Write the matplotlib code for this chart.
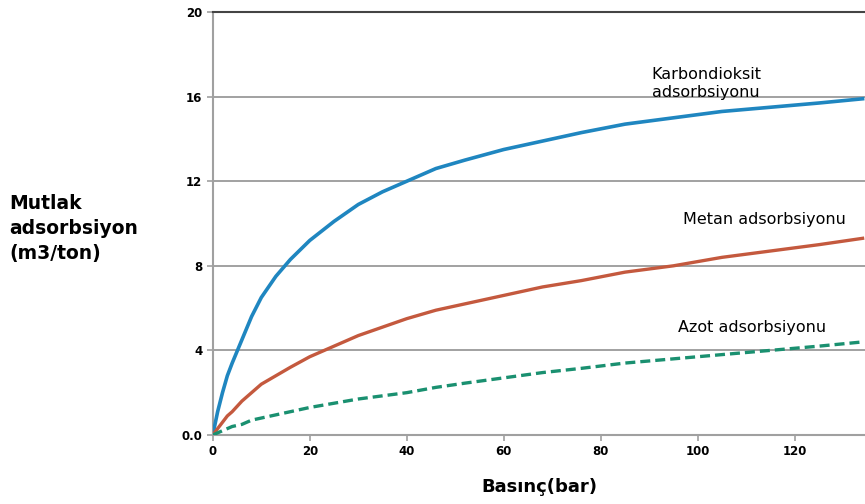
import matplotlib
matplotlib.use("Agg")
import matplotlib.pyplot as plt

# Basinc (bar) and read-off adsorption values (m3/ton)
pressure = [0, 1, 2, 3, 4, 6, 8, 10, 13, 16, 20, 25, 30, 35, 40, 46, 52, 60,
            68, 76, 85, 95, 105, 115, 125, 134]
co2 = [0, 1.1, 2.0, 2.8, 3.4, 4.5, 5.6, 6.5, 7.5, 8.3, 9.2, 10.1, 10.9, 11.5,
       12.0, 12.6, 13.0, 13.5, 13.9, 14.3, 14.7, 15.0, 15.3, 15.5, 15.7, 15.9]
metan = [0, 0.3, 0.6, 0.9, 1.1, 1.6, 2.0, 2.4, 2.8, 3.2, 3.7, 4.2, 4.7, 5.1,
         5.5, 5.9, 6.2, 6.6, 7.0, 7.3, 7.7, 8.0, 8.4, 8.7, 9.0, 9.3]
azot = [0, 0.1, 0.2, 0.3, 0.4, 0.5, 0.7, 0.8, 0.95, 1.1, 1.3, 1.5, 1.7, 1.85,
        2.0, 2.25, 2.45, 2.7, 2.95, 3.15, 3.4, 3.6, 3.8, 4.0, 4.2, 4.4]

x_ticks = [0, 20, 40, 60, 80, 100, 120]
y_ticks = [0, 4, 8, 12, 16, 20]
y_tick_labels = ["0.0", "4", "8", "12", "16", "20"]

fig = plt.figure(figsize=(8.65, 5.04), dpi=100)
ax = fig.add_axes([0.246, 0.137, 0.754, 0.839])

ax.plot(pressure, co2, color="#1f86c0", lw=2.6, zorder=3)
ax.plot(pressure, metan, color="#c4593e", lw=2.4, zorder=3)
ax.plot(pressure, azot, color="#1a9070", lw=2.4, ls=(0, (3, 1.5)), zorder=3)

ax.set_xlim(0, 134.5)
ax.set_ylim(0, 20)
ax.set_xticks(x_ticks)
ax.set_yticks(y_ticks)
ax.set_yticklabels(y_tick_labels)
ax.yaxis.grid(True, color="#9a9a9a", lw=1.3)
ax.set_axisbelow(True)

ax.spines["right"].set_visible(False)
ax.spines["top"].set_color("#444444")
ax.spines["top"].set_linewidth(1.5)
ax.spines["left"].set_color("#a0a0a0")
ax.spines["left"].set_linewidth(1.5)
ax.spines["bottom"].set_color("#a0a0a0")
ax.spines["bottom"].set_linewidth(1.5)

ax.tick_params(axis="both", length=4, width=1.2, color="#a0a0a0", labelsize=8.5)
for lbl in ax.get_xticklabels() + ax.get_yticklabels():
    lbl.set_fontweight("bold")
    lbl.set_family("Liberation Sans Narrow")

ax.set_xlabel("Basınç(bar)", fontsize=13, fontweight="bold", labelpad=14)

fig.text(0.011, 0.547, "Mutlak\nadsorbsiyon\n(m3/ton)", fontsize=13.5,
         fontweight="bold", ha="left", va="center", linespacing=1.38)

ax.text(90.5, 16.6, "Karbondioksit\nadsorbsiyonu", fontsize=11.5, ha="left",
        va="center", linespacing=1.25)
ax.text(130.5, 10.2, "Metan adsorbsiyonu", fontsize=11.5, ha="right", va="center")
ax.text(126.5, 5.1, "Azot adsorbsiyonu", fontsize=11.5, ha="right", va="center")

fig.savefig("out.png", dpi=100)
